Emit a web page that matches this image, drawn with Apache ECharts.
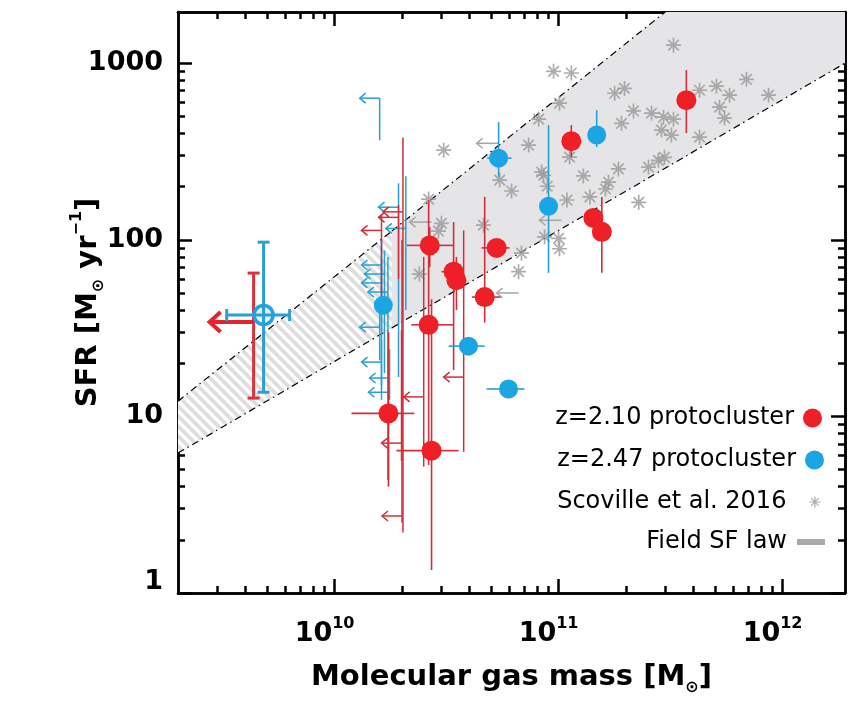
<!DOCTYPE html>
<html>
<head>
<meta charset="utf-8">
<script src="https://cdn.jsdelivr.net/npm/echarts@6/dist/echarts.min.js"></script>
<style>
  html, body { margin: 0; background: #fff; }
  #main { width: 851px; height: 704px; }
</style>
</head>
<body>
<div id="main"></div>
<script>
// z=2.10 protocluster: mass, SFR, SFR err lo/hi, mass err lo/hi (0 = none)
const redMass   = [3.72e11, 1.14e11, 1.43e11, 1.56e11, 5.29e10, 4.68e10, 3.40e10, 3.50e10, 2.66e10, 2.63e10, 1.74e10, 2.71e10];
const redSfr    = [618, 362, 133, 111, 90, 47.4, 66, 59, 93, 33, 10.4, 6.4];
const redSfrLo  = [402, 294, 0, 65, 0, 34, 18.3, 40, 70, 5.3, 4, 1.35];
const redSfrHi  = [913, 446, 0, 175, 0, 175, 126, 80, 118, 168, 30, 46];
const redMassLo = [0, 0, 0, 0, 4.53e10, 4.1e10, 3.0e10, 0, 2.1e10, 2.2e10, 1.19e10, 1.89e10];
const redMassHi = [0, 0, 0, 0, 6.04e10, 5.5e10, 0, 0, 3.4e10, 3.4e10, 2.27e10, 3.58e10];

// z=2.47 protocluster
const bluMass   = [1.48e11, 5.4e10, 9.02e10, 3.96e10, 5.98e10, 1.65e10];
const bluSfr    = [392, 290, 155, 25, 14.3, 42.6];
const bluSfrLo  = [335, 226, 65, 0, 0, 0];
const bluSfrHi  = [542, 464, 446, 0, 0, 0];
const bluMassLo = [0, 4.8e10, 0, 3.23e10, 4.77e10, 0];
const bluMassHi = [0, 6.17e10, 0, 4.68e10, 7.05e10, 0];

// mass upper limits: mass, SFR, SFR err lo/hi
const redLimMass = [1.62e10, 1.93e10, 2.02e10, 1.99e10, 2.0e10, 3.77e10, 2.5e10];
const redLimSfr  = [113, 134, 144, 7.06, 2.73, 16.7, 12.9];
const redLimLo   = [46, 60, 2.2, 5.6, 2.5, 6.3, 5.2];
const redLimHi   = [138, 157, 380, 30.8, 100, 113, 80];

const bluLimMass = [1.59e10, 1.93e10, 2.08e10, 1.62e10, 1.67e10, 1.62e10, 1.73e10, 1.59e10, 1.62e10, 1.76e10, 1.74e10];
const bluLimSfr  = [634, 153, 116, 72, 64, 57, 50.6, 32, 20.3, 16.5, 13.7];
const bluLimLo   = [366, 16.7, 40, 30.8, 17.6, 12.4, 4.37, 20.8, 15, 12.4, 4.4];
const bluLimHi   = [634, 209, 229, 100, 87, 77, 80, 45.6, 27, 24, 30];

const greyLimMass = [2.71e10, 5.4e10, 1.03e11, 6.63e10];
const greyLimSfr  = [126, 352, 129, 50];

// stacked points at low mass
const bigRedLim = [4.35e9, 34.2, 12.7, 64.8];
const openBlue  = [4.82e9, 37.5, 13.7, 97, 3.3e9, 6.3e9];

// Scoville et al. 2016
const starMass = [3.26e11, 9.5e10, 1.14e11, 1.78e11, 1.97e11, 4.26e11, 5.07e11, 5.8e11, 6.9e11, 8.66e11,
  1.01e11, 8.15e10, 2.16e11, 1.91e11, 2.6e11, 2.94e11, 3.26e11, 2.88e11, 3.19e11, 5.23e11,
  5.51e11, 4.26e11, 7.35e10, 1.12e11, 1.29e11, 1.85e11, 1.67e11, 1.62e11, 2.52e11, 2.79e11,
  2.97e11, 2.28e11, 6.17e10, 8.58e10, 8.9e10, 1.09e11, 1.38e11, 1.0e11, 1.01e11, 8.66e10,
  6.83e10, 6.63e10, 3.07e10, 5.46e10, 2.63e10, 3.0e10, 2.91e10, 4.62e10, 2.39e10, 8.4e10];
const starSfr = [1265, 900, 880, 676, 720, 703, 741, 659, 811, 659,
  594, 482, 537, 457, 521, 495, 482, 418, 392, 564,
  489, 381, 344, 294, 230, 252, 212, 194, 258, 282,
  293, 163, 189, 232, 201, 168, 175, 102, 89, 104,
  84, 66, 322, 218, 170, 124, 112, 121, 64, 242];

// field SF law band edges
const bandMass  = [2e9, 1.8e10, 2e12];
const bandUpper = [12.2, 112, 13450];
const bandLower = [6.2, 31.7, 1040];

const xMajor = [1e10, 1e11, 1e12];
const xMinor = [3e9, 4e9, 5e9, 6e9, 7e9, 8e9, 9e9, 2e10, 3e10, 4e10, 5e10, 6e10, 7e10, 8e10, 9e10,
  2e11, 3e11, 4e11, 5e11, 6e11, 7e11, 8e11, 9e11];
const yMajor = [1, 10, 100, 1000];
const yMinor = [2, 3, 4, 5, 6, 7, 8, 9, 20, 30, 40, 50, 60, 70, 80, 90, 200, 300, 400, 500, 600, 700, 800, 900];

const RED = '#ee1f27', RED_BAR = '#cf2f3a', BLU = '#1ba6e3', BLU_BAR = '#2a9fd3', GREY = '#999999';
const FONT = 'DejaVu Sans';

// hatch pattern for the extrapolated part of the band
const hatch = (function () {
  const s = 10, c = document.createElement('canvas');
  c.width = s; c.height = s;
  const ctx = c.getContext('2d');
  const img = ctx.createImageData(s, s);
  for (let j = 0; j < s; j++) {
    for (let i = 0; i < s; i++) {
      const k = ((i - j) % s + s) % s;
      const g = k < 5 ? 222 : 252;
      const p = (j * s + i) * 4;
      img.data[p] = g; img.data[p + 1] = g; img.data[p + 2] = g; img.data[p + 3] = 255;
    }
  }
  ctx.putImageData(img, 0, 0);
  return { image: c, repeat: 'repeat' };
})();

function zip() {
  const arrs = Array.from(arguments);
  return arrs[0].map((_, i) => arrs.map(a => a[i]));
}

function ln(a, b, style) {
  return { type: 'line', shape: { x1: a[0], y1: a[1], x2: b[0], y2: b[1] }, style: style };
}

function errRender(color) {
  return function (params, api) {
    const m = api.value(0), s = api.value(1), lo = api.value(2), hi = api.value(3);
    const mlo = api.value(4), mhi = api.value(5);
    const c = api.coord([m, s]);
    const st = { stroke: color, lineWidth: 1.6 };
    const kids = [];
    if (lo > 0 && hi > 0) kids.push(ln(api.coord([m, lo]), api.coord([m, hi]), st));
    if (mlo > 0) kids.push(ln(api.coord([mlo, s]), c, st));
    if (mhi > 0) kids.push(ln(c, api.coord([mhi, s]), st));
    return { type: 'group', children: kids };
  };
}

function limRender(color, len) {
  return function (params, api) {
    const m = api.value(0), s = api.value(1), lo = api.value(2), hi = api.value(3);
    const c = api.coord([m, s]);
    const st = { stroke: color, lineWidth: 1.5 };
    const kids = [];
    if (lo > 0 && hi > 0) kids.push(ln(api.coord([m, lo]), api.coord([m, hi]), st));
    const tip = [c[0] - len, c[1]];
    kids.push(ln(c, tip, st));
    kids.push({ type: 'polyline', shape: { points: [[tip[0] + 6, tip[1] - 5], tip, [tip[0] + 6, tip[1] + 5]] },
      style: { stroke: color, lineWidth: 1.5, fill: null } });
    return { type: 'group', children: kids };
  };
}

function xAxis(pos, ticks, len, labels) {
  const ax = {
    type: 'log', logBase: 10, min: 2e9, max: 1.9e12, position: pos,
    axisLine: { show: true, onZero: false, lineStyle: { color: '#000', width: 2.5 } },
    axisTick: { show: true, inside: true, length: len, customValues: ticks, lineStyle: { color: '#000', width: 2.5 } },
    splitLine: { show: false },
    axisLabel: { show: false }
  };
  if (labels) {
    ax.axisLabel = {
      show: true, customValues: xMajor, margin: 23, padding: [0, 20, 0, 0],
      formatter: v => '{b|10}{s|' + Math.round(Math.log10(v)) + '}',
      rich: {
        b: { fontFamily: FONT, fontWeight: 'bold', fontSize: 27, color: '#000', lineHeight: 36 },
        s: { fontFamily: FONT, fontWeight: 'bold', fontSize: 16, color: '#000', verticalAlign: 'top' }
      }
    };
    ax.name = '{b|Molecular gas mass [M}{sub|\u2299}{b|]}';
    ax.nameLocation = 'middle';
    ax.nameGap = 65;
    ax.nameTextStyle = {
      rich: {
        b: { fontFamily: FONT, fontWeight: 'bold', fontSize: 29, color: '#000', lineHeight: 38 },
        sub: { fontFamily: FONT, fontWeight: 'bold', fontSize: 16, color: '#000', verticalAlign: 'bottom' }
      }
    };
  }
  return ax;
}

function yAxis(pos, ticks, len, labels) {
  const ax = {
    type: 'log', logBase: 10, min: 1, max: 1950, position: pos,
    axisLine: { show: true, onZero: false, lineStyle: { color: '#000', width: 2.5 } },
    axisTick: { show: true, inside: true, length: len, customValues: ticks, lineStyle: { color: '#000', width: 2.5 } },
    splitLine: { show: false },
    axisLabel: { show: false }
  };
  if (labels) {
    ax.axisLabel = {
      show: true, customValues: yMajor, margin: 15,
      formatter: v => (Math.round(v) === 1 ? '{one|1}' : '{n|' + Math.round(v) + '}'),
      rich: {
        n: { fontFamily: FONT, fontWeight: 'bold', fontSize: 27, color: '#000' },
        one: { fontFamily: FONT, fontWeight: 'bold', fontSize: 27, color: '#000', padding: [0, 0, 22, 0] }
      }
    };
    ax.name = '{b|SFR [M}{sub|\u2299}{b| yr}{sup|\u22121}{b|]}';
    ax.nameLocation = 'middle';
    ax.nameRotate = 90;
    ax.nameGap = 71;
    ax.nameMoveOverlap = false;
    ax.nameTextStyle = {
      rich: {
        b: { fontFamily: FONT, fontWeight: 'bold', fontSize: 29, color: '#000', lineHeight: 38 },
        sub: { fontFamily: FONT, fontWeight: 'bold', fontSize: 16, color: '#000', verticalAlign: 'bottom' },
        sup: { fontFamily: FONT, fontWeight: 'bold', fontSize: 16, color: '#000', verticalAlign: 'top' }
      }
    };
  }
  return ax;
}

const STAR = 'path://M10,0L10,20M0,10L20,10M3,3L17,17M3,17L17,3';

function legend(name, top, right, icon, w, h, style, textPad) {
  return {
    data: [{ name: name, icon: icon, itemStyle: style }],
    orient: 'vertical', align: 'right', right: right, top: top, padding: 0,
    itemWidth: w, itemHeight: h, selectedMode: false,
    textStyle: { fontFamily: FONT, fontSize: 24, color: '#000', lineHeight: 26, padding: [0, textPad, 0, 0] }
  };
}

const chart = echarts.init(document.getElementById('main'));
chart.setOption({
  animation: false,
  backgroundColor: '#fff',
  grid: { left: 178, right: 6, top: 12, bottom: 111 },
  xAxis: [xAxis('bottom', xMajor, 14, true), xAxis('bottom', xMinor, 7, false),
    xAxis('top', xMajor, 14, false), xAxis('top', xMinor, 7, false)],
  yAxis: [yAxis('left', yMajor, 14, true), yAxis('left', yMinor, 7, false),
    yAxis('right', yMajor, 14, false), yAxis('right', yMinor, 7, false)],
  legend: [
    legend('z=2.10 protocluster', 405, 29, 'circle', 19, 19, { color: RED }, 4),
    legend('z=2.47 protocluster', 447, 27, 'circle', 19, 19, { color: BLU }, 4),
    legend('Scoville et al. 2016', 489, 30, STAR, 11, 11, { color: 'rgba(0,0,0,0)', borderColor: GREY, borderWidth: 1.2 }, 18),
    legend('Field SF law', 529, 26, 'rect', 28, 6, { color: '#a9a9a9' }, 5)
  ],
  series: [
    {
      name: 'Field SF law', type: 'custom', clip: true, z: 1,
      itemStyle: { color: '#a9a9a9' },
      data: bandMass.slice(0, -1).map((m, i) => [m, bandUpper[i], bandLower[i],
        bandMass[i + 1], bandUpper[i + 1], bandLower[i + 1], i === 0 ? 1 : 0]),
      encode: { x: [0, 3], y: [1, 2, 4, 5] },
      renderItem: function (params, api) {
        const u0 = api.coord([api.value(0), api.value(1)]), l0 = api.coord([api.value(0), api.value(2)]);
        const u1 = api.coord([api.value(3), api.value(4)]), l1 = api.coord([api.value(3), api.value(5)]);
        const dash = { stroke: '#000', lineWidth: 1.2, lineDash: [7, 4, 1.5, 4], fill: null };
        return {
          type: 'group', children: [
            { type: 'polygon', shape: { points: [u0, u1, l1, l0] },
              style: { fill: api.value(6) ? hatch : '#e5e5e7', stroke: null } },
            { type: 'polyline', shape: { points: [u0, u1] }, style: dash },
            { type: 'polyline', shape: { points: [l0, l1] }, style: dash }
          ]
        };
      }
    },
    {
      name: 'Scoville et al. 2016', type: 'scatter', symbol: STAR, symbolSize: 15, z: 2,
      itemStyle: { color: 'rgba(0,0,0,0)', borderColor: GREY, borderWidth: 1.7 },
      data: zip(starMass, starSfr)
    },
    {
      name: 'grey limits', type: 'custom', clip: true, z: 3,
      data: zip(greyLimMass, greyLimSfr, greyLimMass.map(() => 0), greyLimMass.map(() => 0)),
      renderItem: limRender('#a5a5a5', 22)
    },
    {
      name: 'blue limits', type: 'custom', clip: true, z: 3,
      data: zip(bluLimMass, bluLimSfr, bluLimLo, bluLimHi), renderItem: limRender(BLU_BAR, 20)
    },
    {
      name: 'red limits', type: 'custom', clip: true, z: 3,
      data: zip(redLimMass, redLimSfr, redLimLo, redLimHi), renderItem: limRender(RED_BAR, 20)
    },
    {
      name: 'red errors', type: 'custom', clip: true, z: 3,
      data: zip(redMass, redSfr, redSfrLo, redSfrHi, redMassLo, redMassHi), renderItem: errRender(RED_BAR)
    },
    {
      name: 'blue errors', type: 'custom', clip: true, z: 3,
      data: zip(bluMass, bluSfr, bluSfrLo, bluSfrHi, bluMassLo, bluMassHi), renderItem: errRender(BLU_BAR)
    },
    {
      name: 'stacked limit', type: 'custom', clip: true, z: 4,
      data: [bigRedLim],
      renderItem: function (params, api) {
        const m = api.value(0), s = api.value(1);
        const c = api.coord([m, s]), a = api.coord([m, api.value(2)]), b = api.coord([m, api.value(3)]);
        const st = { stroke: '#d8323c', lineWidth: 3 };
        const tip = [c[0] - 44, c[1]];
        return {
          type: 'group', children: [
            ln(a, b, st), ln([a[0] - 6, a[1]], [a[0] + 6, a[1]], st), ln([b[0] - 6, b[1]], [b[0] + 6, b[1]], st),
            ln(c, tip, { stroke: '#e4232d', lineWidth: 4 }),
            { type: 'polyline', shape: { points: [[tip[0] + 11, tip[1] - 10], tip, [tip[0] + 11, tip[1] + 10]] },
              style: { stroke: '#e4232d', lineWidth: 4, fill: null } }
          ]
        };
      }
    },
    {
      name: 'stacked detection', type: 'custom', clip: true, z: 4,
      data: [openBlue],
      renderItem: function (params, api) {
        const m = api.value(0), s = api.value(1);
        const c = api.coord([m, s]);
        const a = api.coord([m, api.value(2)]), b = api.coord([m, api.value(3)]);
        const l = api.coord([api.value(4), s]), r = api.coord([api.value(5), s]);
        const st = { stroke: BLU_BAR, lineWidth: 3 };
        return {
          type: 'group', children: [
            { type: 'circle', shape: { cx: c[0], cy: c[1], r: 9.5 }, style: { fill: '#dff1fa', stroke: BLU, lineWidth: 3.5 } },
            ln(a, b, st), ln([a[0] - 6, a[1]], [a[0] + 6, a[1]], st), ln([b[0] - 6, b[1]], [b[0] + 6, b[1]], st),
            ln(l, r, st), ln([l[0], l[1] - 6], [l[0], l[1] + 6], st), ln([r[0], r[1] - 6], [r[0], r[1] + 6], st)
          ]
        };
      }
    },
    {
      name: 'z=2.10 protocluster', type: 'scatter', symbol: 'circle', symbolSize: 20, z: 5,
      itemStyle: { color: RED, opacity: 1 },
      data: zip(redMass, redSfr)
    },
    {
      name: 'z=2.47 protocluster', type: 'scatter', symbol: 'circle', symbolSize: 19, z: 5,
      itemStyle: { color: BLU, opacity: 1 },
      data: zip(bluMass, bluSfr)
    }
  ]
});
</script>
</body>
</html>
